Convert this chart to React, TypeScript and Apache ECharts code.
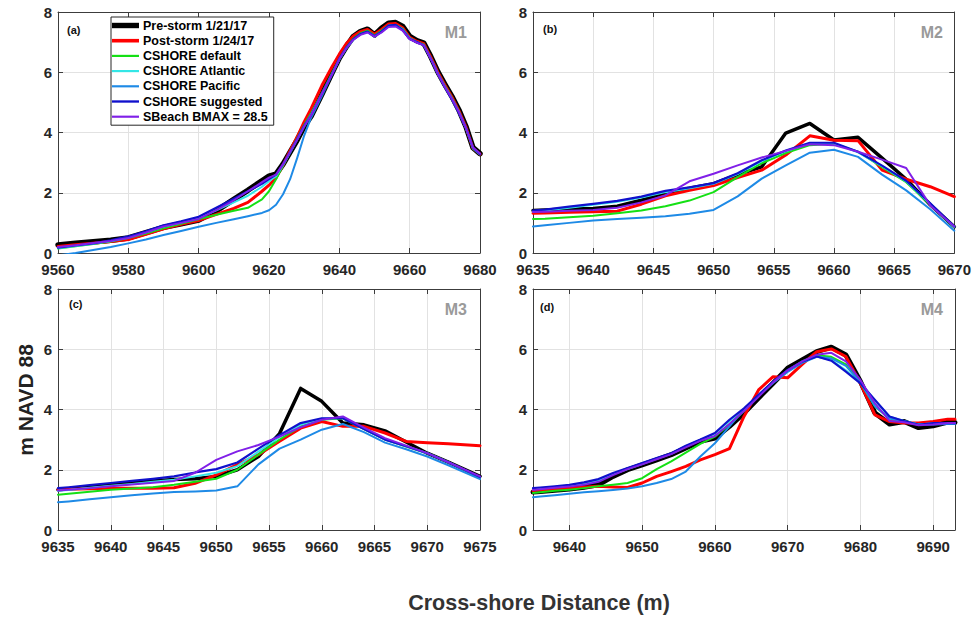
import React, { useEffect, useRef } from "react";
import * as echarts from "echarts";

const NAMES = [
  "Pre-storm 1/21/17",
  "Post-storm 1/24/17",
  "CSHORE default",
  "CSHORE Atlantic",
  "CSHORE Pacific",
  "CSHORE suggested",
  "SBeach BMAX = 28.5",
];
const COLORS = ["#000000", "#ff0000", "#14e014", "#33e6e6", "#1e8ae6", "#1010cc", "#8020e8"];

// ---------- Panel (a) M1 ----------
const A_X = [9560, 9565, 9570, 9575, 9580, 9585, 9590, 9595, 9600, 9605, 9610, 9614, 9618, 9620, 9622, 9624, 9626, 9628, 9630, 9632, 9635, 9638, 9640, 9642, 9644, 9646, 9648, 9650, 9652, 9654, 9656, 9658, 9660, 9662, 9664, 9666, 9668, 9670, 9672, 9674, 9676, 9678, 9680];
const A_PRE = [0.27, 0.32, 0.37, 0.42, 0.5, 0.68, 0.85, 0.97, 1.09, 1.4, 1.78, 2.08, 2.4, 2.55, 2.62, 2.95, 3.35, 3.75, 4.2, 4.55, 5.26, 6.0, 6.47, 6.85, 7.19, 7.35, 7.43, 7.24, 7.46, 7.63, 7.65, 7.52, 7.19, 7.05, 6.97, 6.52, 6.02, 5.6, 5.2, 4.75, 4.2, 3.5, 3.3];
const A_POST = [0.22, 0.27, 0.32, 0.38, 0.45, 0.62, 0.8, 0.95, 1.08, 1.28, 1.48, 1.68, 2.05, 2.25, 2.5, 2.92, 3.4, 3.85, 4.35, 4.8, 5.55, 6.2, 6.6, 6.95, 7.2, 7.35, 7.42, 7.26, 7.42, 7.6, 7.62, 7.48, 7.16, 7.03, 6.95, 6.5, 6.0, 5.58, 5.18, 4.72, 4.18, 3.48, 3.28];
const A_DEF = [0.15, 0.22, 0.3, 0.38, 0.5, 0.65, 0.82, 0.97, 1.12, 1.27, 1.4, 1.5, 1.78, 2.05, 2.45, 2.9, 3.35, 3.8, 4.25, 4.65, 5.3, 6.0, 6.45, 6.83, 7.12, 7.3, 7.38, 7.22, 7.38, 7.55, 7.57, 7.44, 7.13, 7.0, 6.92, 6.47, 5.97, 5.55, 5.15, 4.7, 4.15, 3.47, 3.28];
const A_ATL = [0.16, 0.23, 0.31, 0.4, 0.52, 0.69, 0.88, 1.01, 1.16, 1.42, 1.68, 1.9, 2.2, 2.38, 2.55, 2.92, 3.33, 3.76, 4.2, 4.6, 5.28, 5.95, 6.43, 6.8, 7.08, 7.26, 7.34, 7.19, 7.34, 7.54, 7.56, 7.42, 7.12, 7.0, 6.9, 6.46, 5.96, 5.52, 5.12, 4.67, 4.15, 3.48, 3.28];
const A_PAC = [-0.08, 0.0, 0.1, 0.2, 0.32, 0.45, 0.6, 0.73, 0.87, 1.0, 1.12, 1.22, 1.33, 1.42, 1.6, 1.95, 2.45, 3.15, 3.9, 4.5, 5.2, 5.95, 6.42, 6.8, 7.08, 7.26, 7.34, 7.19, 7.34, 7.54, 7.56, 7.42, 7.12, 7.0, 6.9, 6.46, 5.96, 5.52, 5.12, 4.67, 4.15, 3.48, 3.28];
const A_SUG = [0.18, 0.25, 0.32, 0.42, 0.55, 0.72, 0.92, 1.05, 1.2, 1.5, 1.8, 2.05, 2.3, 2.45, 2.6, 2.95, 3.35, 3.78, 4.22, 4.58, 5.28, 5.95, 6.45, 6.82, 7.1, 7.27, 7.35, 7.2, 7.35, 7.55, 7.57, 7.4, 7.1, 7.0, 6.9, 6.45, 5.95, 5.5, 5.1, 4.65, 4.15, 3.5, 3.28];
const A_SB = [0.2, 0.26, 0.33, 0.4, 0.5, 0.68, 0.88, 1.0, 1.13, 1.42, 1.75, 2.05, 2.35, 2.5, 2.6, 2.95, 3.35, 3.76, 4.2, 4.58, 5.28, 5.95, 6.44, 6.8, 7.08, 7.24, 7.32, 7.18, 7.32, 7.5, 7.52, 7.38, 7.1, 6.98, 6.9, 6.45, 5.95, 5.52, 5.12, 4.68, 4.15, 3.5, 3.3];

// ---------- Panel (b) M2 ----------
const B_X = [9635, 9636, 9638, 9640, 9642, 9644, 9646, 9648, 9650, 9652, 9654, 9656, 9658, 9660, 9662, 9664, 9666, 9668, 9670];
const B_PRE = [1.41, 1.43, 1.46, 1.48, 1.55, 1.75, 1.98, 2.15, 2.3, 2.6, 2.86, 3.98, 4.3, 3.75, 3.84, 3.15, 2.45, 1.6, 0.87];
const B_POST = [1.32, 1.33, 1.35, 1.37, 1.39, 1.62, 1.9, 2.08, 2.24, 2.5, 2.75, 3.25, 3.89, 3.74, 3.73, 2.75, 2.45, 2.2, 1.87];
const B_DEF = [1.13, 1.14, 1.19, 1.24, 1.32, 1.41, 1.55, 1.74, 2.02, 2.52, 2.98, 3.32, 3.58, 3.63, 3.36, 2.85, 2.35, 1.6, 0.86];
const B_ATL = [1.38, 1.41, 1.5, 1.6, 1.7, 1.84, 2.02, 2.15, 2.3, 2.62, 3.05, 3.38, 3.64, 3.64, 3.34, 2.88, 2.38, 1.63, 0.86];
const B_PAC = [0.88, 0.92, 1.0, 1.08, 1.13, 1.17, 1.22, 1.3, 1.43, 1.88, 2.47, 2.91, 3.33, 3.43, 3.19, 2.6, 2.08, 1.45, 0.74];
const B_SUG = [1.41, 1.44, 1.54, 1.63, 1.73, 1.87, 2.06, 2.18, 2.32, 2.65, 3.08, 3.4, 3.66, 3.66, 3.36, 2.9, 2.4, 1.65, 0.88];
const B_SB = [1.36, 1.37, 1.4, 1.43, 1.5, 1.68, 1.91, 2.38, 2.63, 2.91, 3.17, 3.39, 3.61, 3.58, 3.36, 3.1, 2.82, 1.58, 0.88];

// ---------- Panel (c) M3 ----------
const C_X = [9635, 9636, 9638, 9640, 9642, 9644, 9646, 9648, 9650, 9652, 9654, 9656, 9658, 9660, 9662, 9664, 9666, 9668, 9670, 9672, 9675];
const C_PRE = [1.34, 1.37, 1.44, 1.5, 1.56, 1.63, 1.68, 1.7, 1.78, 2.0, 2.44, 3.2, 4.7, 4.27, 3.55, 3.49, 3.29, 2.92, 2.55, 2.25, 1.78];
const C_POST = [1.34, 1.35, 1.37, 1.39, 1.39, 1.39, 1.4, 1.55, 1.83, 2.17, 2.5, 2.95, 3.38, 3.6, 3.44, 3.44, 3.22, 2.94, 2.9, 2.86, 2.8];
const C_DEF = [1.17, 1.2, 1.27, 1.34, 1.38, 1.42, 1.5, 1.6, 1.7, 2.0, 2.5, 3.0, 3.44, 3.66, 3.71, 3.35, 3.0, 2.77, 2.55, 2.25, 1.75];
const C_ATL = [1.3, 1.33, 1.4, 1.47, 1.53, 1.6, 1.67, 1.78, 1.9, 2.12, 2.6, 3.08, 3.5, 3.69, 3.72, 3.36, 3.0, 2.78, 2.55, 2.25, 1.75];
const C_PAC = [0.92, 0.95, 1.02, 1.09, 1.15, 1.21, 1.26, 1.28, 1.31, 1.45, 2.18, 2.7, 3.0, 3.33, 3.52, 3.25, 2.9, 2.68, 2.44, 2.15, 1.69];
const C_SUG = [1.39, 1.42, 1.49, 1.56, 1.63, 1.7, 1.78, 1.91, 2.02, 2.24, 2.7, 3.15, 3.55, 3.71, 3.71, 3.35, 3.0, 2.78, 2.55, 2.25, 1.76];
const C_SB = [1.31, 1.34, 1.39, 1.45, 1.51, 1.57, 1.63, 1.9, 2.33, 2.61, 2.82, 3.1, 3.41, 3.66, 3.77, 3.4, 3.05, 2.8, 2.55, 2.25, 1.78];

// ---------- Panel (d) M4 ----------
const D_X = [9635, 9636, 9638, 9640, 9642, 9644, 9646, 9648, 9650, 9652, 9654, 9656, 9658, 9660, 9662, 9664, 9666, 9668, 9670, 9672, 9674, 9676, 9678, 9680, 9682, 9684, 9686, 9688, 9690, 9692, 9693];
const D_PRE = [1.26, 1.28, 1.32, 1.36, 1.42, 1.5, 1.78, 2.0, 2.16, 2.33, 2.5, 2.72, 2.94, 3.05, 3.44, 3.88, 4.38, 4.87, 5.37, 5.65, 5.92, 6.07, 5.81, 4.93, 3.88, 3.52, 3.6, 3.4, 3.46, 3.58, 3.57];
const D_POST = [1.31, 1.33, 1.36, 1.39, 1.42, 1.45, 1.43, 1.41, 1.56, 1.78, 1.94, 2.11, 2.33, 2.5, 2.7, 3.77, 4.65, 5.09, 5.05, 5.5, 5.92, 6.01, 5.76, 4.87, 3.82, 3.6, 3.55, 3.55, 3.6, 3.68, 3.68];
const D_DEF = [1.23, 1.25, 1.3, 1.34, 1.39, 1.45, 1.5, 1.56, 1.72, 2.02, 2.28, 2.57, 2.86, 3.1, 3.5, 3.95, 4.45, 4.9, 5.3, 5.6, 5.8, 5.75, 5.5, 4.9, 4.1, 3.7, 3.6, 3.5, 3.52, 3.55, 3.55];
const D_ATL = [1.36, 1.38, 1.43, 1.48, 1.55, 1.66, 1.85, 2.02, 2.19, 2.36, 2.53, 2.77, 2.98, 3.2, 3.62, 4.02, 4.47, 4.91, 5.3, 5.58, 5.76, 5.64, 5.3, 4.88, 4.3, 3.76, 3.62, 3.5, 3.54, 3.55, 3.55];
const D_PAC = [1.09, 1.11, 1.15, 1.2, 1.25, 1.29, 1.33, 1.38, 1.45, 1.56, 1.69, 1.94, 2.44, 2.88, 3.44, 4.0, 4.45, 4.88, 5.25, 5.55, 5.75, 5.7, 5.45, 4.9, 4.1, 3.7, 3.6, 3.5, 3.5, 3.52, 3.52];
const D_SUG = [1.39, 1.41, 1.45, 1.5, 1.58, 1.69, 1.89, 2.06, 2.22, 2.39, 2.55, 2.8, 3.0, 3.22, 3.66, 4.04, 4.49, 4.93, 5.31, 5.59, 5.76, 5.62, 5.26, 4.87, 4.32, 3.77, 3.62, 3.49, 3.55, 3.55, 3.55];
const D_SB = [1.33, 1.35, 1.4, 1.44, 1.5, 1.6, 1.82, 2.02, 2.18, 2.35, 2.52, 2.74, 2.96, 3.12, 3.52, 3.95, 4.42, 4.9, 5.3, 5.6, 5.82, 5.88, 5.6, 4.98, 4.2, 3.62, 3.58, 3.48, 3.5, 3.55, 3.55];

const Y_TICKS = { min: 0, max: 8, interval: 2 };

const PANELS = [
  { x: A_X, ys: [A_PRE, A_POST, A_DEF, A_ATL, A_PAC, A_SUG, A_SB], xMin: 9560, xMax: 9680, interval: 20, letter: "(a)", tag: "M1" },
  { x: B_X, ys: [B_PRE, B_POST, B_DEF, B_ATL, B_PAC, B_SUG, B_SB], xMin: 9635, xMax: 9670, interval: 5, letter: "(b)", tag: "M2" },
  { x: C_X, ys: [C_PRE, C_POST, C_DEF, C_ATL, C_PAC, C_SUG, C_SB], xMin: 9635, xMax: 9675, interval: 5, letter: "(c)", tag: "M3" },
  { x: D_X, ys: [D_PRE, D_POST, D_DEF, D_ATL, D_PAC, D_SUG, D_SB], xMin: 9635, xMax: 9693, interval: 0, letter: "(d)", tag: "M4" },
];

// layout (pixels)
const GRIDS = [
  { left: 58, top: 12 },
  { left: 533, top: 12 },
  { left: 58, top: 289 },
  { left: 533, top: 289 },
];
const GRID_W = 422;
const GRID_H = 241;
const LETTER_POS = [[67, 30], [543, 29], [69, 304], [540, 307]];
const TAG_POS = [[467, 32], [943, 32], [467, 309], [943, 309]];
const BLACK_W = [5.5, 3.5, 3.5, 5];
const LINE_W = [0, 3, 2, 2, 2, 2.2, 2];
const ICONS = [
  "path://M0,0H30V6H0Z",
  "path://M0,0H30V4H0Z",
  "path://M0,0H30V2.4H0Z",
  "path://M0,0H30V2.4H0Z",
  "path://M0,0H30V2.4H0Z",
  "path://M0,0H30V2.6H0Z",
  "path://M0,0H30V2.4H0Z",
];

const FONT = "'Liberation Sans', Arial, Helvetica, sans-serif";
const FRAME = "#3c3c3c";

function buildOption() {
  const grid: any[] = [];
  const xAxis: any[] = [];
  const yAxis: any[] = [];
  const series: any[] = [];
  const graphic: any[] = [];

  PANELS.forEach((p, i) => {
    grid.push({ left: GRIDS[i].left, top: GRIDS[i].top, width: GRID_W, height: GRID_H, containLabel: false });
    const xb: any = {
      type: "value",
      gridIndex: i,
      min: p.xMin,
      max: p.xMax,
      position: "bottom",
      axisLine: { show: true, onZero: false, lineStyle: { color: FRAME, width: 1 } },
      axisTick: { show: true, inside: true, length: 5, lineStyle: { color: FRAME } },
      axisLabel: {
        color: "#262626",
        fontSize: 15,
        fontWeight: "bold",
        fontFamily: FONT,
        margin: 9,
        formatter: (v: number) => String(v),
        showMinLabel: p.interval ? true : false,
        showMaxLabel: p.interval ? true : false,
      },
      splitLine: { show: true, lineStyle: { color: "#e2e2e2", width: 1 } },
    };
    if (p.interval) xb.interval = p.interval;
    else xb.splitNumber = 6;
    xAxis.push(xb);
    const xt: any = {
      type: "value",
      gridIndex: i,
      min: p.xMin,
      max: p.xMax,
      position: "top",
      axisLine: { show: true, onZero: false, lineStyle: { color: FRAME, width: 1 } },
      axisTick: { show: true, inside: true, length: 5, lineStyle: { color: FRAME } },
      axisLabel: { show: false },
      splitLine: { show: false },
    };
    if (p.interval) xt.interval = p.interval;
    else xt.splitNumber = 6;
    xAxis.push(xt);

    yAxis.push({
      type: "value",
      gridIndex: i,
      ...Y_TICKS,
      position: "left",
      axisLine: { show: true, onZero: false, lineStyle: { color: FRAME, width: 1 } },
      axisTick: { show: true, inside: true, length: 5, lineStyle: { color: FRAME } },
      axisLabel: { color: "#262626", fontSize: 15, fontWeight: "bold", fontFamily: FONT, margin: 6 },
      splitLine: { show: true, lineStyle: { color: "#e2e2e2", width: 1 } },
    });
    yAxis.push({
      type: "value",
      gridIndex: i,
      ...Y_TICKS,
      position: "right",
      axisLine: { show: true, onZero: false, lineStyle: { color: FRAME, width: 1 } },
      axisTick: { show: true, inside: true, length: 5, lineStyle: { color: FRAME } },
      axisLabel: { show: false },
      splitLine: { show: false },
    });

    p.ys.forEach((ys, k) => {
      const w = k === 0 ? BLACK_W[i] : LINE_W[k];
      series.push({
        type: "line",
        name: NAMES[k],
        xAxisIndex: 2 * i,
        yAxisIndex: 2 * i,
        data: p.x.map((xv, j) => [xv, ys[j]]),
        symbol: "none",
        showSymbol: false,
        color: COLORS[k],
        itemStyle: { color: COLORS[k] },
        lineStyle: { color: COLORS[k], width: w, join: "round", cap: "round" },
        clip: true,
        silent: true,
        z: 2 + k,
      });
    });

    graphic.push({
      type: "text",
      x: LETTER_POS[i][0],
      y: LETTER_POS[i][1],
      z: 100,
      style: { text: p.letter, fill: "#111", fontSize: 11, fontWeight: "bold", fontFamily: FONT, align: "left", verticalAlign: "middle" },
    });
    graphic.push({
      type: "text",
      x: TAG_POS[i][0],
      y: TAG_POS[i][1],
      z: 100,
      style: { text: p.tag, fill: "#9a9a9a", fontSize: 16, fontWeight: "bold", fontFamily: FONT, align: "right", verticalAlign: "middle" },
    });
  });

  graphic.push({
    type: "text",
    x: 25,
    y: 400,
    rotation: Math.PI / 2,
    z: 100,
    style: { text: "m NAVD 88", fill: "#222", fontSize: 21, fontWeight: "bold", fontFamily: FONT, align: "center", verticalAlign: "middle" },
  });
  graphic.push({
    type: "text",
    x: 539,
    y: 603,
    z: 100,
    style: { text: "Cross-shore Distance (m)", fill: "#333", fontSize: 21.5, fontWeight: "bold", fontFamily: FONT, align: "center", verticalAlign: "middle" },
  });

  return {
    animation: false,
    backgroundColor: "#ffffff",
    grid,
    xAxis,
    yAxis,
    series,
    graphic,
    legend: {
      show: true,
      orient: "vertical",
      left: 111,
      top: 17,
      data: NAMES.map((n, k) => ({ name: n, icon: ICONS[k] })),
      itemWidth: 27,
      itemHeight: 14,
      itemGap: 2.2,
      padding: [2, 6, 2, 1],
      backgroundColor: "#ffffff",
      borderColor: "#262626",
      borderWidth: 1,
      selectedMode: false,
      itemStyle: { borderWidth: 0 },
      textStyle: { color: "#000", fontSize: 12.5, fontWeight: "bold", fontFamily: FONT, padding: [0, 0, 0, -1] },
      z: 50,
    },
  };
}

export default function App() {
  const ref = useRef<HTMLDivElement>(null);
  useEffect(() => {
    if (!ref.current) return;
    const chart = echarts.init(ref.current, undefined, { renderer: "svg" });
    chart.setOption(buildOption() as any);
    return () => chart.dispose();
  }, []);
  return (
    <div
      ref={ref}
      style={{ position: "absolute", left: 0, top: 0, width: 974, height: 617, background: "#fff" }}
    />
  );
}
